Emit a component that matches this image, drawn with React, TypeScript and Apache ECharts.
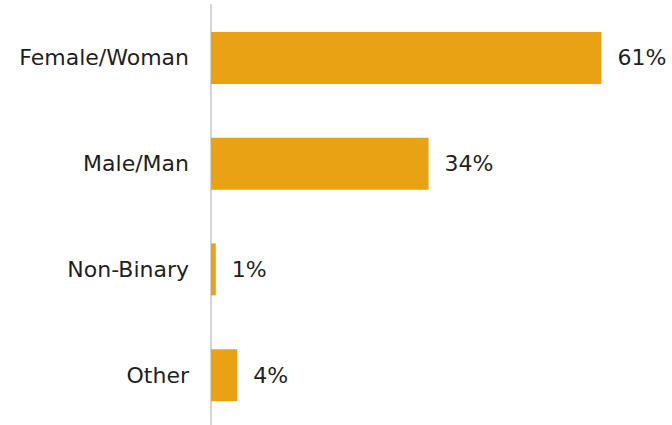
import React, { useEffect, useRef } from "react";
import * as echarts from "echarts";

const categories = ["Female/Woman", "Male/Man", "Non-Binary", "Other"];
const values = [61, 34, 0.75, 4.1];
const valueLabels = ["61%", "34%", "1%", "4%"];

export default function App() {
  const ref = useRef<HTMLDivElement>(null);
  useEffect(() => {
    if (!ref.current) return;
    const chart = echarts.init(ref.current, null, { renderer: "svg" });
    chart.setOption({
      animation: false,
      grid: { left: 211, right: 13, top: 5, bottom: 0, containLabel: false },
      xAxis: {
        type: "value",
        min: 0,
        max: 70,
        show: false,
      },
      yAxis: {
        type: "category",
        data: categories,
        inverse: true,
        axisLine: { show: true, lineStyle: { color: "#d4d4d4", width: 2 } },
        axisTick: { show: false },
        axisLabel: {
          color: "#1f1f1f",
          fontSize: 22,
          fontFamily: "DejaVu Sans",
          margin: 22,
        },
      },
      series: [
        {
          type: "bar",
          data: values,
          barWidth: 52,
          itemStyle: { color: "#E8A213" },
          label: {
            show: true,
            position: "right",
            distance: 16,
            color: "#1f1f1f",
            fontSize: 22,
            fontFamily: "DejaVu Sans",
            formatter: (p: any) => valueLabels[p.dataIndex],
          },
        },
      ],
    });
    return () => chart.dispose();
  }, []);
  return (
    <div
      ref={ref}
      style={{ position: "fixed", left: 0, top: 0, width: 672, height: 428, background: "#fff" }}
    />
  );
}
